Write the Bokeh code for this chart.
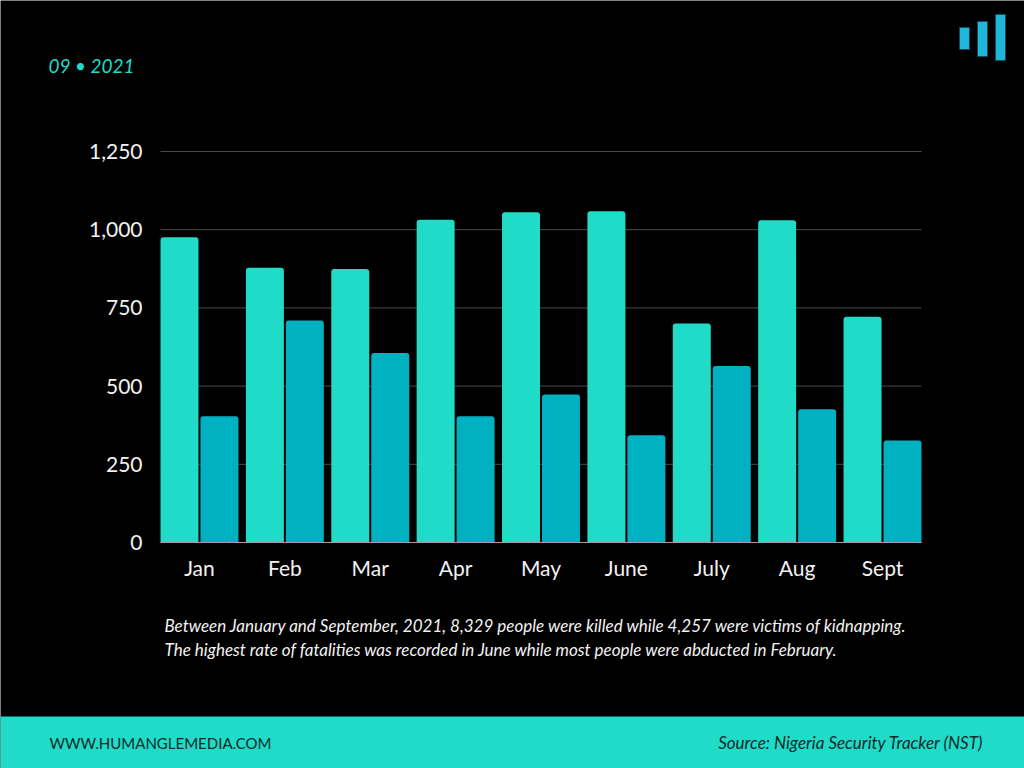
from bokeh.plotting import figure
from bokeh.models import Range1d, FixedTicker, NumeralTickFormatter, LinearAxis
from bokeh.core.properties import value
from bokeh.embed import file_html
from bokeh.resources import INLINE

# ---- data ----
months = ["Jan", "Feb", "Mar", "Apr", "May", "June", "July", "Aug", "Sept"]
killed = [976, 878, 874, 1032, 1056, 1059, 700, 1030, 722]
kidnapped = [404, 710, 606, 404, 473, 343, 564, 426, 326]
y_ticks = [0, 250, 500, 750, 1000, 1250]

date_text = "09 \u2022 2021"
caption_1 = "Between January and September, 2021, 8,329 people were killed while 4,257 were victims of kidnapping."
caption_2 = "The highest  rate of fatalities was recorded in June while most people were abducted in February."
site_text = "WWW.HUMANGLEMEDIA.COM"
source_text = "Source: Nigeria Security Tracker (NST)"

BG = "#000000"
TEAL = "#1fdbc8"
BLUE = "#00b1c2"
LOGO = "#1fb6da"
FONT = "Lato"

W, H = 1024, 768
# chart area on the canvas (pixels)
CL, CR, CT, CB = 160, 921, 151, 542
half = 0.4565
bw = 0.445
x_lo, x_hi = -half, len(months) - 1 + half
y_lo, y_hi = 0, 1250
ux = (x_hi - x_lo) / (CR - CL)
uy = (y_hi - y_lo) / (CB - CT)

p = figure(width=W, height=H, output_backend="svg", toolbar_location=None,
           x_range=Range1d(x_lo - CL * ux, x_hi + (W - CR) * ux),
           y_range=Range1d(y_lo - (H - CB) * uy, y_hi + CT * uy),
           x_axis_location=None, y_axis_location=None, min_border=0,
           background_fill_color=BG, border_fill_color=BG, tools="")
p.outline_line_color = None
p.grid.visible = False
p.extra_x_ranges["px"] = Range1d(0, W)
p.extra_y_ranges["py"] = Range1d(H, 0)

xs = list(range(len(months)))

# grid lines
p.segment(x0=[x_lo] * len(y_ticks), x1=[x_hi] * len(y_ticks), y0=y_ticks, y1=y_ticks,
          line_color="#4a4a4a", line_width=1)

# bars
p.vbar(x=[i - half + bw / 2 for i in xs], top=killed, width=bw, bottom=0,
       fill_color=TEAL, line_color=None, border_radius=(3, 3, 0, 0))
p.vbar(x=[i + half - bw / 2 for i in xs], top=kidnapped, width=bw, bottom=0,
       fill_color=BLUE, line_color=None, border_radius=(3, 3, 0, 0))

# axes fixed at the chart's edges
yax = LinearAxis(fixed_location=x_lo, ticker=FixedTicker(ticks=y_ticks),
                 formatter=NumeralTickFormatter(format="0,0"), bounds=(y_lo, y_hi))
xax = LinearAxis(fixed_location=0, ticker=FixedTicker(ticks=xs), bounds=(x_lo, x_hi),
                 major_label_overrides={i: m for i, m in zip(xs, months)})
for ax in (xax, yax):
    ax.major_tick_line_color = None
    ax.minor_tick_line_color = None
    ax.major_label_text_font = FONT
    ax.major_label_text_font_size = "21px"
    ax.major_label_text_color = "#f2f2f2"
yax.axis_line_color = None
yax.major_label_standoff = 12
xax.axis_line_color = "#a0a0a0"
xax.axis_line_width = 1
xax.major_label_standoff = 6
p.add_layout(yax, "left")
p.add_layout(xax, "below")

# ---- decorations in canvas pixels ----
pix = dict(x_range_name="px", y_range_name="py")

# header
p.text(x=[48], y=[65], text=[date_text], text_font=value(FONT), text_font_style="italic",
       text_font_size="19px", text_color=TEAL, text_baseline="middle", text_align="left", **pix)
p.quad(left=[959, 977, 995], right=[969, 987, 1005], top=[27, 21, 14], bottom=[49, 56, 60],
       fill_color=LOGO, line_color="#0b4f5e", line_width=1, **pix)

# caption
p.text(x=[164, 164], y=[625, 649], text=[caption_1, caption_2], text_font=value(FONT),
       text_font_style="italic", text_font_size="17px", text_color="#f2f2f2",
       text_baseline="middle", text_align="left", **pix)

# footer
p.quad(left=[0], right=[W], top=[716], bottom=[H], fill_color=TEAL, line_color=None, **pix)
p.text(x=[49], y=[742], text=[site_text], text_font=value(FONT), text_font_size="15px",
       text_color="#0b2b2a", text_baseline="middle", text_align="left", **pix)
p.text(x=[983], y=[742], text=[source_text], text_font=value(FONT), text_font_style="italic",
       text_font_size="17px", text_color="#0b2b2a", text_baseline="middle", text_align="right", **pix)

open("out.html", "w").write(file_html(p, INLINE))
